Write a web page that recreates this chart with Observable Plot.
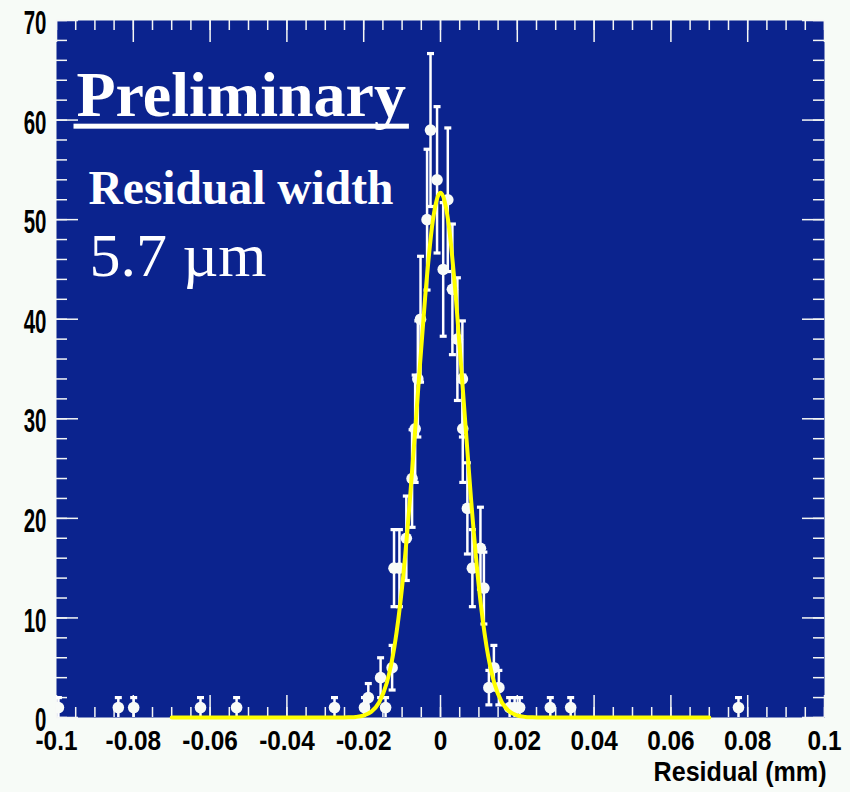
<!DOCTYPE html>
<html><head><meta charset="utf-8">
<script src="https://cdn.jsdelivr.net/npm/d3@7"></script>
<script src="https://cdn.jsdelivr.net/npm/@observablehq/plot@0.6"></script>
<style>
html,body{margin:0;padding:0;background:#f7fbf7;}
#chart{width:850px;height:792px;}
</style></head><body><div id="chart"></div>
<script>
// residual (mm) of each histogram point, its count and its error half-width
const residual = [-0.0995,-0.0839,-0.0799,-0.0625,-0.0531,-0.0276,-0.0198,-0.0188,-0.0156,-0.0143,-0.0126,-0.0121,-0.0107,-0.0089,-0.0074,-0.0066,-0.0059,-0.0052,-0.0035,-0.0026,-0.0009,0.0007,0.0019,0.0031,0.0044,0.0057,0.0058,0.0070,0.0083,0.0104,0.0113,0.0126,0.0139,0.0152,0.0180,0.0193,0.0206,0.0286,0.0339,0.0776];
const counts   = [1,1,1,1,1,1,1,2,4,1,5,15,15,18,24,29,34,40,50,59,54,45,52,43,38,34,29,21,15,17,13,3,5,3,1,1,1,1,1,1];
const errors   = [1,1,1,1,1,1,1,1.41,2,1,2.24,3.87,3.87,4.24,4.9,5.39,5.83,6.32,7.07,7.68,7.35,6.71,7.21,6.56,6.16,5.83,5.39,4.58,3.87,4.12,3.61,1.73,2.24,1.73,1,1,1,1,1,1];
// yellow fit curve
const fitX = [-0.07,-0.026,-0.024,-0.022,-0.02,-0.018,-0.016,-0.014,-0.012,-0.01,-0.008,-0.006,-0.004,-0.002,0,0.002,0.004,0.006,0.008,0.01,0.012,0.014,0.016,0.018,0.02,0.022,0.024,0.026,0.07];
const fitY = [0,0,0.02,0.06,0.2,0.59,1.51,3.46,7.1,13.1,21.7,32.0,42.2,49.9,52.7,49.9,42.2,32.0,21.7,13.1,7.1,3.46,1.51,0.59,0.2,0.06,0.02,0,0];
const xTickValues = [-0.1,-0.08,-0.06,-0.04,-0.02,0,0.02,0.04,0.06,0.08,0.1];
const xTickLabels = ["-0.1","-0.08","-0.06","-0.04","-0.02","0","0.02","0.04","0.06","0.08","0.1"];
const yTickValues = [0,10,20,30,40,50,60,70];
const yTickLabels = ["0","10","20","30","40","50","60","70"];
const xTitle = "Residual (mm)";
const banner = "Preliminary";
const widthLabel = "Residual width";
const widthValue = "5.7 \u00b5m";

const points = residual.map((x, i) => ({x, y: counts[i], lo: Math.max(0, counts[i] - errors[i]), hi: counts[i] + errors[i]}));
const fit = fitX.map((x, i) => ({x, y: fitY[i]}));

const W = 850, H = 792, ML = 56, MR = 26, MT = 20, MB = 75;
const xDom = [-0.1, 0.1], yDom = [0, 70];
const kx = (xDom[1] - xDom[0]) / (W - ML - MR);   // data units per px
const ky = (yDom[1] - yDom[0]) / (H - MT - MB);
const xMinor = d3.range(-20, 21).map(k => k * 0.005);
const yMinor = d3.range(0, 36).map(k => k * 2);
const tickColor = "#f4f6f4";
const cap = {draw(ctx) { ctx.moveTo(-3.5, 0); ctx.lineTo(3.5, 0); }};
const sans = "'Liberation Sans',Arial,sans-serif";
const serif = "'Liberation Serif','Times New Roman',serif";

const chart = Plot.plot({
  width: W, height: H,
  marginLeft: ML, marginRight: MR, marginTop: MT, marginBottom: MB,
  style: {background: "transparent", overflow: "visible"},
  x: {domain: xDom},
  y: {domain: yDom},
  marks: [
    Plot.frame({fill: "#0b238e", stroke: null}),
    // inward ticks on all four sides
    Plot.ruleX(xMinor, {x: d => d, y1: 0, y2: 10 * ky, stroke: tickColor, strokeWidth: 1.5}),
    Plot.ruleX(xTickValues, {x: d => d, y1: 0, y2: 22 * ky, stroke: tickColor, strokeWidth: 1.5}),
    Plot.ruleX(xMinor, {x: d => d, y1: 70, y2: 70 - 10 * ky, stroke: tickColor, strokeWidth: 1.5}),
    Plot.ruleX(xTickValues, {x: d => d, y1: 70, y2: 70 - 22 * ky, stroke: tickColor, strokeWidth: 1.5}),
    Plot.ruleY(yMinor, {y: d => d, x1: -0.1, x2: -0.1 + 11 * kx, stroke: tickColor, strokeWidth: 1.5}),
    Plot.ruleY(yTickValues, {y: d => d, x1: -0.1, x2: -0.1 + 22 * kx, stroke: tickColor, strokeWidth: 1.5}),
    Plot.ruleY(yMinor, {y: d => d, x1: 0.1, x2: 0.1 - 11 * kx, stroke: tickColor, strokeWidth: 1.5}),
    Plot.ruleY(yTickValues, {y: d => d, x1: 0.1, x2: 0.1 - 22 * kx, stroke: tickColor, strokeWidth: 1.5}),
    Plot.axisX({ticks: xTickValues, tickSize: 0, tickPadding: 13, tickFormat: d => xTickLabels[xTickValues.indexOf(d)],
      fontSize: 28, fontWeight: "bold", fontFamily: sans, fill: "black", label: null}),
    Plot.axisY({ticks: yTickValues, tickSize: 0, tickPadding: 10, dy: 3, tickFormat: d => yTickLabels[yTickValues.indexOf(d)],
      fontSize: 33, fontWeight: "bold", fontFamily: sans, fill: "black", label: null}),
    // data with error bars
    Plot.ruleX(points, {x: "x", y1: "lo", y2: "hi", stroke: "white", strokeWidth: 2.5, clip: true}),
    Plot.dot(points, {x: "x", y: "hi", symbol: cap, stroke: "white", strokeWidth: 3.2, clip: true}),
    Plot.dot(points.filter(d => d.lo > 0), {x: "x", y: "lo", symbol: cap, stroke: "white", strokeWidth: 3.2, clip: true}),
    Plot.dot(points, {x: "x", y: "y", r: 5.8, fill: "#f8fbf8", stroke: null, clip: true}),
    // fit
    Plot.line(fit, {x: "x", y: "y", stroke: "#ffff00", strokeWidth: 4, curve: "monotone-x"}),
    // annotations
    Plot.text([banner], {frameAnchor: "top-left", text: d => d, dx: 20, dy: 95, lineAnchor: "bottom", textAnchor: "start",
      fontFamily: serif, fontWeight: "bold", fontSize: 64, fill: "white"}),
    Plot.text([widthLabel], {frameAnchor: "top-left", text: d => d, dx: 32, dy: 183, lineAnchor: "bottom", textAnchor: "start",
      fontFamily: serif, fontWeight: "bold", fontSize: 47.5, fill: "white"}),
    Plot.text([widthValue], {frameAnchor: "top-left", text: d => d, dx: 33, dy: 255, lineAnchor: "bottom", textAnchor: "start",
      fontFamily: serif, fontSize: 62, fill: "white"}),
    Plot.text([xTitle], {frameAnchor: "bottom-right", text: d => d, dx: 2, dy: 63, lineAnchor: "bottom", textAnchor: "end",
      fontFamily: sans, fontWeight: "bold", fontSize: 27, fill: "black"})
  ]
});
document.getElementById("chart").appendChild(chart);

// condense the axis lettering horizontally about each label's anchor
function condense(sel, s, anchor) {
  sel.each(function() {
    const b = this.getBBox();
    const ax = anchor === "end" ? b.x + b.width : anchor === "middle" ? b.x + b.width / 2 : b.x;
    const t = this.getAttribute("transform") || "";
    this.setAttribute("transform", `${t} translate(${ax},0) scale(${s},1) translate(${-ax},0)`);
  });
}
const svg = d3.select(chart);
const byText = s => svg.selectAll("text").filter(function() { return this.textContent === s; });
condense(svg.selectAll('g[aria-label="y-axis tick label"] text'), 0.62, "end");
condense(svg.selectAll('g[aria-label="x-axis tick label"] text'), 0.87, "middle");
condense(byText(xTitle), 0.93, "end");

// thick underline under the banner
byText(banner).each(function() {
  const b = this.getBBox();
  const baseline = b.y + b.height - 0.216 * 64;
  const t = this.getAttribute("transform") || "";
  d3.select(this.parentNode).append("rect")
    .attr("transform", t)
    .attr("x", b.x - 3).attr("width", b.width + 6)
    .attr("y", baseline + 8).attr("height", 5)
    .attr("fill", "white");
});
</script>
</body></html>
